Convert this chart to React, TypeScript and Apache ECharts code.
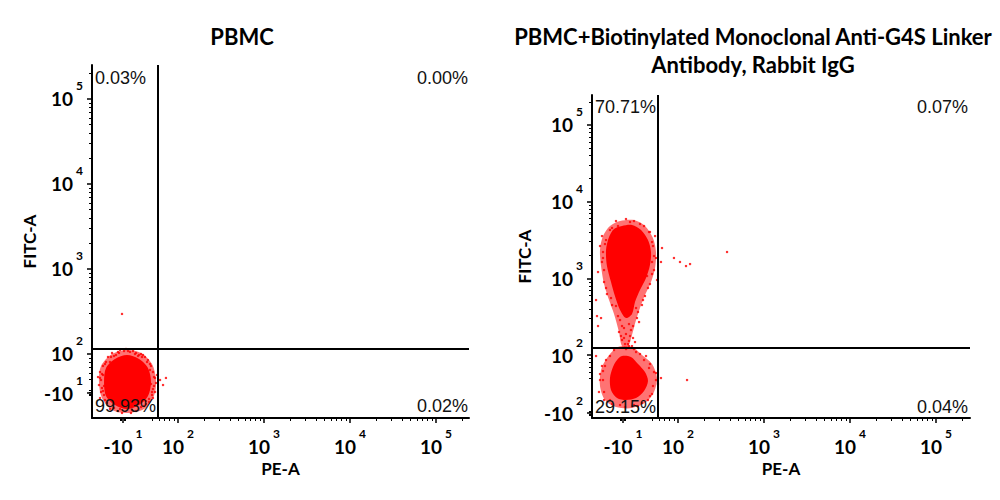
import React, { useEffect, useRef } from "react";
import * as echarts from "echarts";

// Axis positions are in display decades (biexponential display: 2 = 10^2, 3 = 10^3 ...)
const peTickValues = [1.36, 2, 3, 4, 5];
const peTickLabels = [["-10", "1"], ["10", "2"], ["10", "3"], ["10", "4"], ["10", "5"]];

const fitcTickValuesPbmc = [1.541, 2, 3, 4, 5];
const fitcTickLabelsPbmc = [["-10", "1"], ["10", "2"], ["10", "3"], ["10", "4"], ["10", "5"]];

const fitcTickValuesG4s = [1.244, 2, 3, 4, 5];
const fitcTickLabelsG4s = [["-10", "2"], ["10", "2"], ["10", "3"], ["10", "4"], ["10", "5"]];

// Quadrant gates [PE-A, FITC-A]
const pbmcGate = [1.767, 2.059];
const g4sGate = [1.767, 2.091];

// Quadrant frequencies: upper-left, upper-right, lower-left, lower-right
const pbmcQuadrants = ["0.03%", "0.00%", "99.93%", "0.02%"];
const g4sQuadrants = ["70.71%", "0.07%", "29.15%", "0.04%"];

// Saturated population cores
const pbmcCore = [
  [1.407, 1.988], [1.547, 1.941], [1.651, 1.835], [1.686, 1.671],
  [1.651, 1.506], [1.547, 1.4], [1.407, 1.353], [1.267, 1.4],
  [1.163, 1.506], [1.14, 1.671], [1.163, 1.835], [1.267, 1.941],
];

const g4sHighCore = [
  [1.349, 3.682], [1.465, 3.695], [1.57, 3.63], [1.651, 3.499],
  [1.686, 3.343], [1.674, 3.173], [1.628, 3.004], [1.558, 2.847],
  [1.5, 2.691], [1.465, 2.535], [1.395, 2.482], [1.326, 2.587],
  [1.267, 2.769], [1.221, 2.952], [1.174, 3.16], [1.163, 3.369],
  [1.198, 3.538], [1.256, 3.643],
];

const g4sLowCore = [
  [1.349, 1.987], [1.453, 1.974], [1.535, 1.883], [1.616, 1.778],
  [1.651, 1.661], [1.605, 1.531], [1.512, 1.439], [1.395, 1.413],
  [1.291, 1.439], [1.221, 1.544], [1.209, 1.7], [1.244, 1.844],
  [1.291, 1.935],
];

// Sparser fringe around each core
const pbmcHalo = [
  [1.407, 2.047], [1.57, 2.012], [1.698, 1.882], [1.744, 1.694],
  [1.721, 1.506], [1.605, 1.353], [1.407, 1.306], [1.233, 1.341],
  [1.116, 1.482], [1.081, 1.671], [1.105, 1.859], [1.233, 2.0],
];

const g4sHighHalo = [
  [1.326, 3.747], [1.488, 3.76], [1.616, 3.682], [1.709, 3.525],
  [1.744, 3.343], [1.733, 3.134], [1.686, 2.952], [1.616, 2.782],
  [1.558, 2.613], [1.512, 2.456], [1.465, 2.261], [1.419, 2.117],
  [1.349, 2.117], [1.314, 2.3], [1.256, 2.535], [1.198, 2.717],
  [1.14, 2.926], [1.105, 3.16], [1.093, 3.369], [1.128, 3.551],
  [1.209, 3.682],
];

const g4sLowHalo = [
  [1.302, 2.104], [1.465, 2.104], [1.581, 2.0], [1.698, 1.883],
  [1.756, 1.7], [1.721, 1.518], [1.628, 1.387], [1.465, 1.309],
  [1.279, 1.322], [1.151, 1.413], [1.093, 1.596], [1.105, 1.804],
  [1.174, 1.961],
];

// Individual events
const pbmcEvents = [
  [1.326, 2.047], [1.395, 2.059], [1.477, 2.035], [1.233, 2.012], [1.57, 2.0],
  [1.302, 2.024], [1.442, 2.024], [1.616, 1.965], [1.186, 1.965], [1.512, 2.012],
  [1.709, 1.788], [1.733, 1.718], [1.721, 1.624], [1.698, 1.553], [1.744, 1.659],
  [1.674, 1.882], [1.756, 1.753], [1.709, 1.482], [1.791, 1.694], [1.86, 1.718],
  [1.826, 1.635], [1.093, 1.788], [1.105, 1.694], [1.116, 1.6], [1.081, 1.635],
  [1.128, 1.859], [1.07, 1.729], [1.14, 1.518], [1.105, 1.553], [1.209, 1.353],
  [1.302, 1.329], [1.512, 1.329], [1.605, 1.388], [1.349, 1.306], [1.453, 1.306],
  [1.663, 1.435], [1.581, 1.965], [1.209, 1.906], [1.698, 1.518], [1.151, 1.459],
  [1.349, 2.471], [1.163, 1.906], [1.651, 1.929], [1.128, 1.753], [1.686, 1.859],
  [1.256, 1.976], [1.547, 1.988], [1.733, 1.553], [1.093, 1.482], [1.628, 1.412],
  [1.314, 2.012], [1.5, 2.0], [1.372, 2.035], [1.64, 1.906], [1.674, 1.812],
  [1.709, 1.588], [1.663, 1.471], [1.57, 1.376], [1.465, 1.341], [1.256, 1.365],
  [1.174, 1.424], [1.128, 1.565], [1.116, 1.765], [1.151, 1.882], [1.221, 1.965],
  [1.419, 2.035], [1.535, 1.976], [1.721, 1.729], [1.628, 1.447], [1.326, 1.353],
  [1.14, 1.624], [1.186, 1.824], [1.593, 1.988], [1.279, 1.988], [1.686, 1.647],
  [1.093, 1.718],
];

const g4sEvents = [
  [1.279, 3.747], [1.395, 3.773], [1.488, 3.747], [1.605, 3.682], [1.209, 3.63],
  [1.116, 3.551], [1.093, 3.421], [1.128, 3.265], [1.07, 3.082], [1.733, 3.551],
  [1.709, 3.421], [1.744, 3.265], [1.721, 3.108], [1.674, 2.926], [1.756, 2.978],
  [1.616, 2.769], [1.581, 2.652], [1.14, 2.952], [1.174, 2.795], [1.233, 2.652],
  [1.047, 2.717], [1.105, 2.482], [1.535, 2.561], [1.547, 2.43], [1.43, 2.404],
  [1.349, 2.378], [1.453, 2.326], [1.395, 2.274], [1.477, 2.222], [1.349, 2.196],
  [1.419, 2.143], [1.5, 2.169], [1.314, 2.3], [1.372, 2.222], [1.43, 2.183],
  [1.058, 2.508], [1.07, 2.378], [1.953, 3.265], [2.023, 3.213], [2.093, 3.16],
  [2.14, 3.186], [2.57, 3.343], [1.814, 3.395], [1.802, 3.213], [1.151, 3.447],
  [1.698, 3.213], [1.663, 3.604], [1.302, 2.508], [1.512, 2.613],
  [1.233, 3.656], [1.442, 3.734], [1.558, 3.708], [1.674, 3.604], [1.698, 3.473],
  [1.721, 3.291], [1.698, 3.056], [1.651, 2.874], [1.593, 2.717], [1.163, 3.499],
  [1.128, 3.343], [1.14, 3.108], [1.163, 2.874], [1.221, 2.743], [1.279, 2.639],
  [1.523, 2.482], [1.477, 2.378], [1.372, 2.352], [1.326, 2.456], [1.407, 2.091],
  [1.465, 2.117], [1.384, 2.143], [1.442, 2.248], [1.337, 2.248], [1.302, 3.682],
  [1.64, 3.03], [1.116, 3.213],
  [1.256, 2.065], [1.488, 2.078], [1.558, 2.013], [1.163, 1.935], [1.116, 1.857],
  [1.674, 1.883], [1.721, 1.778], [1.744, 1.674], [1.698, 1.492], [1.651, 1.413],
  [1.093, 1.674], [1.081, 1.518], [1.14, 1.413], [1.233, 1.361], [1.384, 1.322],
  [1.535, 1.335], [1.128, 1.791], [1.767, 1.622], [1.802, 1.7], [2.105, 1.674],
  [1.047, 1.987], [1.209, 1.987], [1.395, 2.078], [1.512, 2.039], [1.605, 1.935],
  [1.663, 1.831], [1.709, 1.596], [1.674, 1.465], [1.581, 1.374], [1.488, 1.348],
  [1.326, 1.348], [1.209, 1.413], [1.14, 1.518], [1.128, 1.674], [1.151, 1.857],
  [1.43, 2.117], [1.744, 1.765], [1.093, 1.752], [1.628, 1.987],
];

const RED = "#ff0000";
const HALO = "rgba(255, 0, 0, 0.55)";
const BOLD_FONT = "Lato";

// minor log ticks inside each decade, plus the dense marks of the linear region
function minorTicks(lo: number, hi: number, linear: number[]) {
  const out: number[] = [...linear];
  for (let n = 1; n <= 5; n++) {
    for (let k = 2; k <= 9; k++) {
      const v = n + Math.log10(k);
      if (v > lo && v < hi && v > 1.65) out.push(+v.toFixed(4));
    }
  }
  return out;
}

const richStyles = {
  b: {
    fontFamily: BOLD_FONT, fontWeight: "bold", fontSize: 19, color: "#000",
    lineHeight: 38, verticalAlign: "middle",
  },
  e: {
    fontFamily: BOLD_FONT, fontWeight: "bold", fontSize: 12, color: "#000",
    lineHeight: 11, verticalAlign: "top", padding: [0, 0, 0, 3],
  },
};

function labelFormatter(values: number[], labels: string[][]) {
  return (v: number) => {
    const i = values.findIndex((t) => Math.abs(t - v) < 1e-6);
    if (i < 0) return "";
    return `{b|${labels[i][0]}}{e|${labels[i][1]}}`;
  };
}

function mainAxis(
  gridIndex: number, min: number, max: number, values: number[], labels: string[][],
  name: string, nameGap: number, isY: boolean,
) {
  return {
    type: "value", gridIndex, min, max,
    position: isY ? "left" : "bottom",
    name, nameLocation: "middle", nameGap,
    nameTextStyle: { fontFamily: BOLD_FONT, fontWeight: "bold", fontSize: 17, color: "#000" },
    axisLine: { show: true, onZero: false, lineStyle: { color: "#000", width: 2 } },
    axisTick: { show: true, customValues: values, length: 5, lineStyle: { color: "#000", width: 1.5 } },
    axisLabel: {
      show: true, customValues: values, margin: 9,
      formatter: labelFormatter(values, labels), rich: richStyles,
    },
    splitLine: { show: false },
  };
}

function minorAxis(gridIndex: number, min: number, max: number, ticks: number[], isY: boolean) {
  return {
    type: "value", gridIndex, min, max,
    position: isY ? "left" : "bottom",
    axisLine: { show: false, onZero: false },
    axisTick: { show: true, customValues: ticks, length: 3, lineStyle: { color: "#000", width: 1 } },
    axisLabel: { show: false },
    splitLine: { show: false },
  };
}

function areaSeries(outline: number[][], axis: number, fill: string, z: number) {
  return {
    type: "custom", xAxisIndex: axis, yAxisIndex: axis, z, silent: true, clip: true,
    data: [outline[0]],
    renderItem: (_params: any, api: any) => ({
      type: "polygon",
      shape: { points: outline.map((p) => api.coord(p)), smooth: 0.3 },
      style: { fill },
    }),
  };
}

function eventSeries(events: number[][], axis: number) {
  return {
    type: "scatter", xAxisIndex: axis, yAxisIndex: axis, z: 3, silent: true,
    symbol: "rect", symbolSize: 2.2, itemStyle: { color: RED }, data: events,
  };
}

function gateSeries(gate: number[], axis: number) {
  return {
    type: "scatter", xAxisIndex: axis, yAxisIndex: axis, z: 5, silent: true,
    symbolSize: 0, data: [gate],
    markLine: {
      silent: true, symbol: "none", animation: false, label: { show: false },
      lineStyle: { color: "#000", width: 2, type: "solid" },
      data: [{ xAxis: gate[0] }, { yAxis: gate[1] }],
    },
  };
}

function pctText(text: string, x: number, y: number, align: string) {
  return {
    type: "text", x, y, z: 10,
    style: {
      text, align, verticalAlign: "middle", fill: "#111",
      fontFamily: "Liberation Sans", fontSize: 18,
    },
  };
}

function titleText(text: string, x: number, y: number) {
  return {
    type: "text", x, y, z: 10,
    style: {
      text, align: "center", verticalAlign: "middle", fill: "#000",
      fontFamily: BOLD_FONT, fontWeight: "bold", fontSize: 22,
    },
  };
}

export default function App() {
  const ref = useRef<HTMLDivElement>(null);

  useEffect(() => {
    if (!ref.current) return;
    const chart = echarts.init(ref.current, null, { renderer: "svg" });

    const pX = [1, 5.384];
    const pY = [1.247, 5.4];
    const gX = [1, 5.395];
    const gY = [1.179, 5.39];
    const xLinear = [1.33, 1.345, 1.375, 1.39];

    chart.setOption({
      animation: false,
      backgroundColor: "#fff",
      grid: [
        { left: 92, top: 65, width: 377, height: 353, containLabel: false },
        { left: 592, top: 95, width: 378, height: 323, containLabel: false },
      ],
      xAxis: [
        mainAxis(0, pX[0], pX[1], peTickValues, peTickLabels, "PE-A", 41, false),
        minorAxis(0, pX[0], pX[1], minorTicks(pX[0], pX[1], xLinear), false),
        mainAxis(1, gX[0], gX[1], peTickValues, peTickLabels, "PE-A", 41, false),
        minorAxis(1, gX[0], gX[1], minorTicks(gX[0], gX[1], xLinear), false),
      ],
      yAxis: [
        mainAxis(0, pY[0], pY[1], fitcTickValuesPbmc, fitcTickLabelsPbmc, "FITC-A", 54, true),
        minorAxis(0, pY[0], pY[1], minorTicks(pY[0], pY[1], [1.51, 1.525, 1.555, 1.57]), true),
        mainAxis(1, gY[0], gY[1], fitcTickValuesG4s, fitcTickLabelsG4s, "FITC-A", 59, true),
        minorAxis(1, gY[0], gY[1], minorTicks(gY[0], gY[1], [1.22, 1.23, 1.26, 1.27]), true),
      ],
      series: [
        areaSeries(pbmcHalo, 0, HALO, 1),
        areaSeries(pbmcCore, 0, RED, 2),
        eventSeries(pbmcEvents, 0),
        gateSeries(pbmcGate, 0),
        areaSeries(g4sHighHalo, 2, HALO, 1),
        areaSeries(g4sLowHalo, 2, HALO, 1),
        areaSeries(g4sHighCore, 2, RED, 2),
        areaSeries(g4sLowCore, 2, RED, 2),
        eventSeries(g4sEvents, 2),
        gateSeries(g4sGate, 2),
      ],
      graphic: [
        titleText("PBMC", 242, 36),
        titleText("PBMC+Biotinylated Monoclonal Anti-G4S Linker", 753, 36),
        titleText("Antibody, Rabbit IgG", 753, 64),
        pctText(pbmcQuadrants[0], 95, 78, "left"),
        pctText(pbmcQuadrants[1], 468, 78, "right"),
        pctText(pbmcQuadrants[2], 95, 406, "left"),
        pctText(pbmcQuadrants[3], 468, 406, "right"),
        pctText(g4sQuadrants[0], 595, 107, "left"),
        pctText(g4sQuadrants[1], 968, 107, "right"),
        pctText(g4sQuadrants[2], 595, 407, "left"),
        pctText(g4sQuadrants[3], 968, 407, "right"),
      ],
    });

    return () => chart.dispose();
  }, []);

  return (
    <div
      ref={ref}
      style={{ position: "fixed", left: 0, top: 0, width: 1000, height: 500, background: "#fff" }}
    />
  );
}
